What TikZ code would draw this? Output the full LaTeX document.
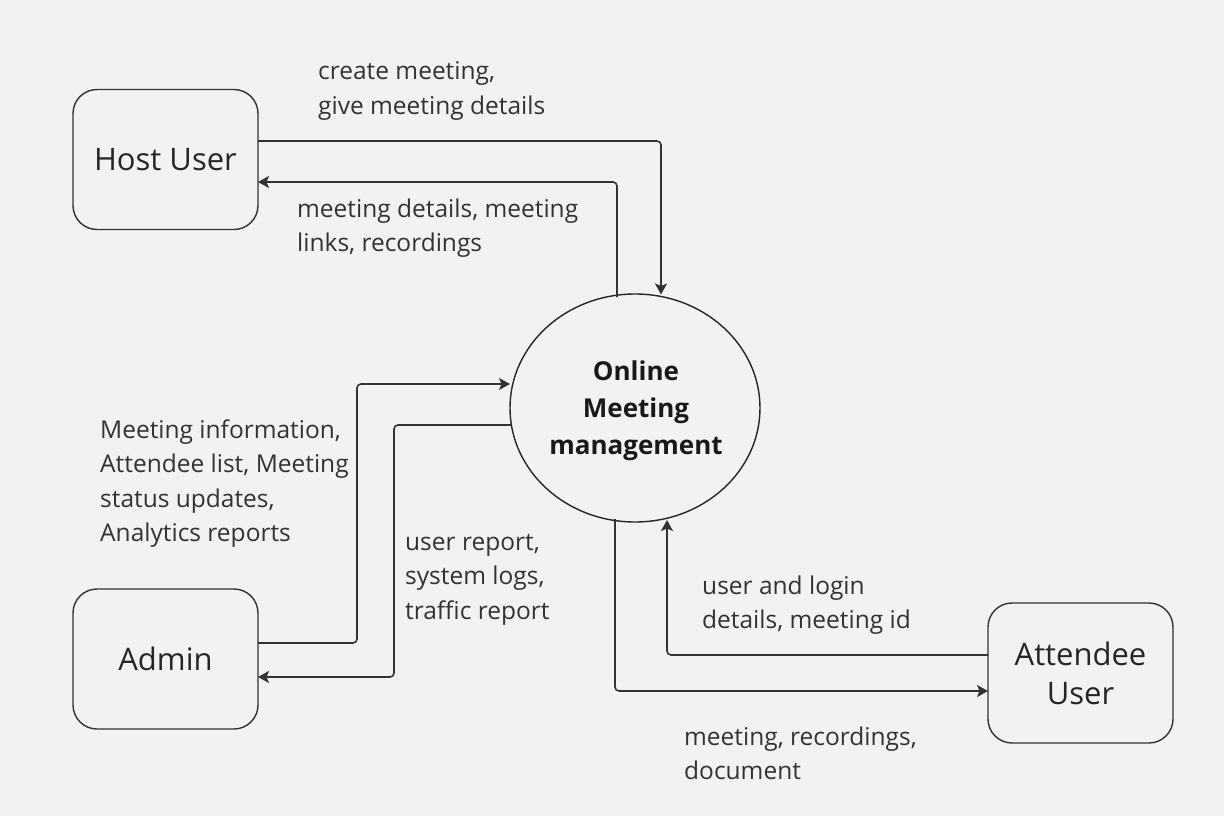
\documentclass[tikz,border=0pt]{standalone}
\usepackage{fontspec}
\setmainfont{Open Sans}
\usetikzlibrary{arrows.meta,shapes.geometric}
\definecolor{bg}{HTML}{F2F2F2}
\definecolor{ink}{HTML}{333333}
\begin{document}
\begin{tikzpicture}[x=1pt,y=-1pt,
  entity/.style={draw=ink,line width=1.4pt,rounded corners=24pt,minimum width=185pt,minimum height=140pt,align=center,text=black!85,font=\fontsize{31}{39}\selectfont,inner sep=0pt},
  proc/.style={draw=black!85,line width=1.4pt,ellipse,minimum width=250pt,minimum height=228pt,align=center,text=black!90,font=\fontsize{26}{37}\selectfont\bfseries,inner sep=0pt},
  flow/.style={draw=ink,line width=1.6pt,rounded corners=4pt,-{Stealth[length=11pt,width=12pt,inset=2.5pt]}},
  lbl/.style={anchor=west,align=left,inner sep=0pt,text=black!80,font=\fontsize{24.5}{34.5}\selectfont}]
\fill[bg] (0,0) rectangle (1224,816);
\useasboundingbox (0,0) rectangle (1224,816);

\node[entity] (host) at (165.5,159.5) {Host User};
\node[entity] (admin) at (165.5,659) {Admin};
\node[entity] (att) at (1080.5,673) {Attendee\\User};
\node[proc] (omm) at (635,408) {};
\node[align=center,text=black!90,font=\fontsize{26}{37}\selectfont\bfseries,inner sep=0pt] (ommtext) at (636,411) {Online\\Meeting\\management};

\coordinate (h1) at (258,141);
\coordinate (h2) at (661,294.5);
\coordinate (h3) at (617,297);
\coordinate (h4) at (258,182);
\draw[flow] (h1) -| (h2);
\draw[flow] (h3) |- (h4);

\coordinate (a1) at (258,643);
\coordinate (a2) at (510,384);
\coordinate (a3) at (511,425);
\coordinate (a4) at (258,677);
\draw[flow] (a1) -- (357,643) -- (357,384) -- (a2);
\draw[flow] (a3) -- (394,425) -- (394,677) -- (a4);

\coordinate (t1) at (988,655);
\coordinate (t2) at (667,520);
\coordinate (t3) at (615,519);
\coordinate (t4) at (988,691);
\draw[flow] (t1) -| (t2);
\draw[flow] (t3) |- (t4);

\node[lbl] (l1) at (318,91) {create meeting,\\give meeting details};
\node[lbl] (l2) at (297,228) {meeting details, meeting\\links, recordings};
\node[lbl] (l3) at (100,483.5) {Meeting information,\\Attendee list, Meeting\\status updates,\\Analytics reports};
\node[lbl] (l4) at (405,579.5) {user report,\\system logs,\\traffic report};
\node[lbl] (l5) at (702,605) {user and login\\details, meeting id};
\node[lbl] (l6) at (684,753.5) {meeting, recordings,\\document};
\end{tikzpicture}
\end{document}
